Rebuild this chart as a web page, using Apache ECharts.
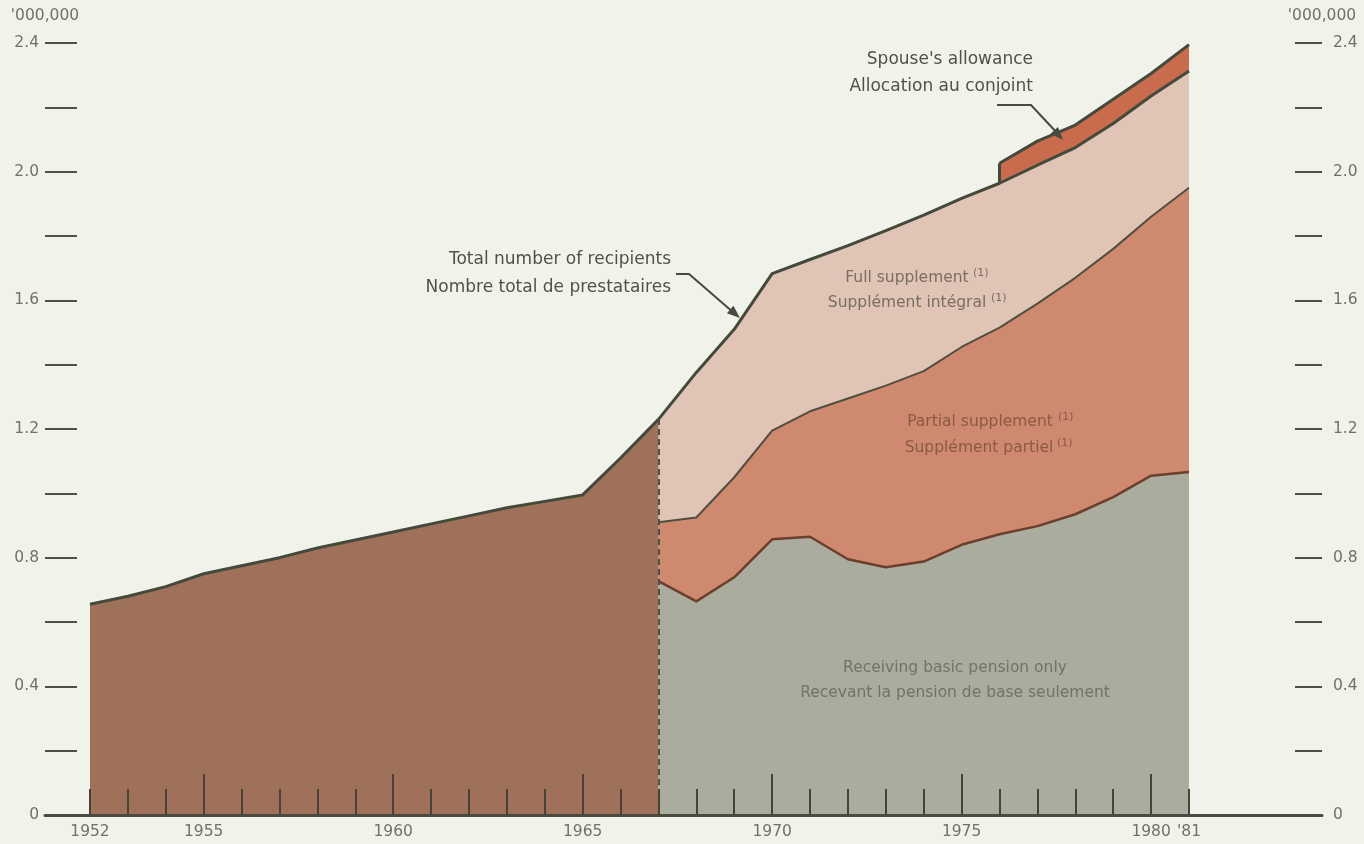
<!DOCTYPE html>
<html>
<head>
<meta charset="utf-8">
<title>Old Age Security recipients 1952-1981</title>
<script src="https://cdn.jsdelivr.net/npm/echarts@6.0.0/dist/echarts.min.js"></script>
<style>
  html, body { margin: 0; padding: 0; background: #f1f2ea; }
  #chart { width: 1364px; height: 844px; }
</style>
</head>
<body>
<div id="chart"></div>
<script>
// years on the horizontal axis
const years = ['1952', '1953', '1954', '1955', '1956', '1957', '1958', '1959', '1960', '1961',
  '1962', '1963', '1964', '1965', '1966', '1967', '1968', '1969', '1970', '1971',
  '1972', '1973', '1974', '1975', '1976', '1977', '1978', '1979', '1980', '1981'];
const labelYears = ['1952', '1955', '1960', '1965', '1970', '1975', '1980', '1981'];

// millions of recipients, 1952-1967 (one block)
const totalEarly = [0.655, 0.68, 0.71, 0.75, 0.775, 0.80, 0.83, 0.855, 0.88, 0.905,
  0.93, 0.955, 0.975, 0.995, 1.11, 1.23];

// 1967-1981, stacked groups
const basicOnly = [0.727, 0.664, 0.739, 0.857, 0.865, 0.795, 0.770, 0.788, 0.840, 0.873,
  0.898, 0.935, 0.988, 1.055, 1.066];
const partialSupplement = [0.183, 0.261, 0.311, 0.338, 0.390, 0.500, 0.565, 0.592, 0.615, 0.642,
  0.692, 0.735, 0.772, 0.805, 0.884];
const fullSupplement = [0.320, 0.451, 0.460, 0.488, 0.472, 0.475, 0.482, 0.485, 0.462, 0.449,
  0.430, 0.405, 0.390, 0.375, 0.363];
// 1976-1981
const spouseAllowance = [0.062, 0.075, 0.070, 0.075, 0.070, 0.082];

const pad = n => Array(n).fill('-');
const start67 = years.indexOf('1967');
const start76 = years.indexOf('1976');

// the spouse band starts with a step: outline it from the stacked values of 1976
const k76 = start76 - start67;
const below76 = basicOnly[k76] + partialSupplement[k76] + fullSupplement[k76];
const above76 = below76 + spouseAllowance[0];

const labelColor = '#6f7366';
const lineDark = '#434a3c';
const tickColor = '#4a4238';
const font = '"DejaVu Sans", sans-serif';

let chart = echarts.init(document.getElementById('chart'));

function arrow(p, t) {
  const dx = t[0] - p[0], dy = t[1] - p[1];
  const len = Math.sqrt(dx * dx + dy * dy);
  const ux = dx / len, uy = dy / len;
  const bx = t[0] - ux * 13, by = t[1] - uy * 13;
  return [t, [bx - uy * 5, by + ux * 5], [bx + uy * 5, by - ux * 5]];
}

function text(str, x, y, opts) {
  return {
    type: 'text', x: x, y: y, z: 20,
    style: Object.assign({
      text: str, fill: '#4d5446', fontSize: 17, fontFamily: font,
      textAlign: 'right', textVerticalAlign: 'middle'
    }, opts || {})
  };
}

chart.setOption({
  backgroundColor: '#f1f2ea',
  animation: false,
  grid: [
    { left: 90, right: 175, top: 43, bottom: 29 },
    { left: 45, right: 42, top: 43, bottom: 29 }
  ],
  xAxis: [
    {
      type: 'category', gridIndex: 0, position: 'bottom', data: years, boundaryGap: false, z: 10,
      axisLine: { show: false },
      axisTick: { show: true, inside: true, length: 26, interval: 0, lineStyle: { color: tickColor, width: 2 } },
      axisLabel: {
        interval: (i, v) => labelYears.indexOf(v) >= 0,
        formatter: v => (v === '1981' ? "'81" : v),
        margin: 9, color: labelColor, fontSize: 15.5, fontFamily: font
      },
      splitLine: { show: false }
    },
    {
      type: 'category', gridIndex: 0, position: 'bottom', data: years, boundaryGap: false, z: 10,
      axisLine: { show: false },
      axisTick: { show: true, inside: true, length: 41, interval: (i, v) => Number(v) % 5 === 0,
        lineStyle: { color: tickColor, width: 2 } },
      axisLabel: { show: false },
      splitLine: { show: false }
    },
    {
      type: 'value', gridIndex: 1, min: 0, max: 1, z: 10,
      axisLine: { show: true, lineStyle: { color: '#4a4a40', width: 3 } },
      axisTick: { show: false }, axisLabel: { show: false }, splitLine: { show: false }
    }
  ],
  yAxis: [
    {
      type: 'value', gridIndex: 1, position: 'left', min: 0, max: 2.4, interval: 0.2,
      name: "'000,000", nameLocation: 'end', nameGap: 19,
      nameTextStyle: { color: labelColor, fontSize: 15.5, fontFamily: font, align: 'center' },
      axisLine: { show: false },
      axisTick: { show: true, inside: true, length: 32, lineStyle: { color: '#4f4f46', width: 2 } },
      axisLabel: {
        margin: 6, color: labelColor, fontSize: 15.5, fontFamily: font,
        formatter: v => (Math.round(v * 10) % 4 === 0 ? (v === 0 ? '0' : v.toFixed(1)) : '')
      },
      splitLine: { show: false }
    },
    {
      type: 'value', gridIndex: 1, position: 'right', min: 0, max: 2.4, interval: 0.2,
      name: "'000,000", nameLocation: 'end', nameGap: 19,
      nameTextStyle: { color: labelColor, fontSize: 15.5, fontFamily: font, align: 'center' },
      axisLine: { show: false },
      axisTick: { show: true, inside: true, length: 27, lineStyle: { color: '#4f4f46', width: 2 } },
      axisLabel: {
        margin: 11, color: labelColor, fontSize: 15.5, fontFamily: font,
        formatter: v => (Math.round(v * 10) % 4 === 0 ? (v === 0 ? '0' : v.toFixed(1)) : '')
      },
      splitLine: { show: false }
    },
    { type: 'value', gridIndex: 0, min: 0, max: 2.4, show: false }
  ],
  series: [
    {
      name: 'Total 1952-1967', type: 'line', xAxisIndex: 0, yAxisIndex: 2, z: 8,
      data: totalEarly, symbol: 'none',
      lineStyle: { color: lineDark, width: 3 },
      areaStyle: { color: '#a0715a', opacity: 1 },
      markLine: {
        z: 9, silent: true, symbol: 'none', label: { show: false },
        data: [
          [{ coord: ['1967', 0], lineStyle: { color: '#4f4e45', width: 2, type: [6, 4] } },
           { coord: ['1967', totalEarly[totalEarly.length - 1]] }],
          [{ coord: ['1976', below76], lineStyle: { color: lineDark, width: 3, type: 'solid' } },
           { coord: ['1976', above76] }]
        ]
      }
    },
    {
      name: 'Receiving basic pension only', type: 'line', stack: 'oas', xAxisIndex: 0, yAxisIndex: 2, z: 7,
      data: pad(start67).concat(basicOnly), symbol: 'none',
      lineStyle: { color: '#6b3f2c', width: 2.5 },
      areaStyle: { color: '#aaac9e', opacity: 1 }
    },
    {
      name: 'Partial supplement', type: 'line', stack: 'oas', xAxisIndex: 0, yAxisIndex: 2, z: 6,
      data: pad(start67).concat(partialSupplement), symbol: 'none',
      lineStyle: { color: '#4f4f40', width: 2 },
      areaStyle: { color: '#cf896f', opacity: 1 }
    },
    {
      name: 'Full supplement', type: 'line', stack: 'oas', xAxisIndex: 0, yAxisIndex: 2, z: 5,
      data: pad(start67).concat(fullSupplement), symbol: 'none',
      lineStyle: { color: lineDark, width: 3 },
      areaStyle: { color: '#e0c4b5', opacity: 1 }
    },
    {
      name: "Spouse's allowance", type: 'line', stack: 'oas', xAxisIndex: 0, yAxisIndex: 2, z: 4,
      data: pad(start76).concat(spouseAllowance), symbol: 'none',
      lineStyle: { color: lineDark, width: 3 },
      areaStyle: { color: '#c96b4d', opacity: 1 }
    }
  ],
  graphic: [
    text('Total number of recipients', 671, 260),
    text('Nombre total de prestataires', 671, 288),
    text("Spouse's allowance", 1033, 60),
    text('Allocation au conjoint', 1033, 87),
    { type: 'polyline', z: 20, shape: { points: [[676, 274], [689, 274], [734, 313]] },
      style: { stroke: '#454b3e', lineWidth: 2, fill: null } },
    { type: 'polygon', z: 20, shape: { points: arrow([689, 274], [740, 318]) }, style: { fill: '#454b3e' } },
    { type: 'polyline', z: 20, shape: { points: [[997, 105], [1031, 105], [1059, 135]] },
      style: { stroke: '#454b3e', lineWidth: 2, fill: null } },
    { type: 'polygon', z: 20, shape: { points: arrow([1031, 105], [1063, 140]) }, style: { fill: '#454b3e' } },

    text('Full supplement', 907, 278, { textAlign: 'center', fill: '#7a6d62', fontSize: 15.5 }),
    text('(1)', 973, 273, { textAlign: 'left', fill: '#7a6d62', fontSize: 11 }),
    text('Supplément intégral', 907, 303, { textAlign: 'center', fill: '#7a6d62', fontSize: 15.5 }),
    text('(1)', 991, 298, { textAlign: 'left', fill: '#7a6d62', fontSize: 11 }),

    text('Partial supplement', 980, 422, { textAlign: 'center', fill: '#8c5944', fontSize: 15.5 }),
    text('(1)', 1058, 417, { textAlign: 'left', fill: '#8c5944', fontSize: 11 }),
    text('Supplément partiel', 979, 448, { textAlign: 'center', fill: '#8c5944', fontSize: 15.5 }),
    text('(1)', 1057, 443, { textAlign: 'left', fill: '#8c5944', fontSize: 11 }),

    text('Receiving basic pension only', 955, 668, { textAlign: 'center', fill: '#6f7466', fontSize: 15.5 }),
    text('Recevant la pension de base seulement', 955, 693, { textAlign: 'center', fill: '#6f7466', fontSize: 15.5 })
  ]
});
</script>
</body>
</html>
